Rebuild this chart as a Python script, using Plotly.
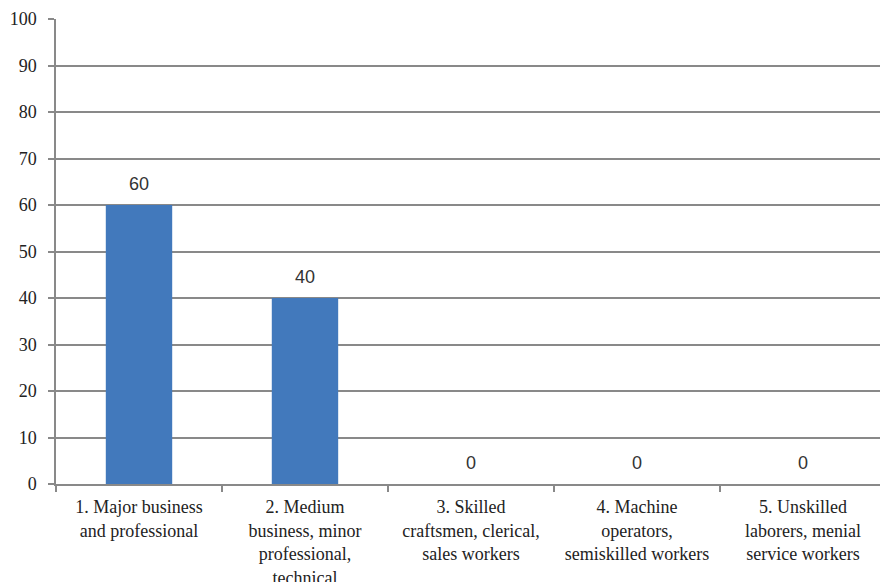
import plotly.graph_objects as go

categories = [
    "1. Major business<br>and professional",
    "2. Medium<br>business, minor<br>professional,<br>technical",
    "3. Skilled<br>craftsmen, clerical,<br>sales workers",
    "4. Machine<br>operators,<br>semiskilled workers",
    "5. Unskilled<br>laborers, menial<br>service workers",
]
values = [60, 40, 0, 0, 0]
y_ticks = list(range(0, 101, 10))

axis_grey = "#898989"
serif = "Liberation Serif"
tick_font = dict(family=serif, size=18, color="#222222")

fig = go.Figure(
    go.Bar(
        x=categories,
        y=values,
        width=0.4,
        marker=dict(color="#4279BC", line=dict(width=0)),
        hoverinfo="x+y",
    )
)

# value labels above each bar
for cat, val in zip(categories, values):
    fig.add_annotation(
        x=cat,
        y=val,
        text=str(val),
        showarrow=False,
        yanchor="bottom",
        yshift=9,
        font=dict(family="Liberation Sans", size=18, color="#333333"),
    )

fig.update_layout(
    width=880,
    height=582,
    margin=dict(l=56, r=0, t=19, b=98, autoexpand=False),
    paper_bgcolor="white",
    plot_bgcolor="white",
    showlegend=False,
    bargap=0.6,
    font=dict(family=serif, size=18, color="#222222"),
)

fig.update_xaxes(
    type="category",
    range=[-0.5, 4.464],
    automargin=False,
    showline=True,
    linecolor=axis_grey,
    linewidth=1.5,
    ticks="outside",
    tickson="boundaries",
    ticklen=6,
    tickcolor=axis_grey,
    tickwidth=1.5,
    showgrid=False,
    tickfont=tick_font,
    tickangle=0,
    ticklabelstandoff=6,
)

fig.update_yaxes(
    range=[0, 100],
    tickvals=y_ticks,
    automargin=False,
    showline=True,
    linecolor=axis_grey,
    linewidth=1.5,
    ticks="outside",
    ticklen=6,
    tickcolor=axis_grey,
    tickwidth=1.5,
    showgrid=True,
    gridcolor=axis_grey,
    gridwidth=1.5,
    zeroline=False,
    ticklabelstandoff=8,
    tickfont=tick_font,
)

fig.write_html("out.html")
